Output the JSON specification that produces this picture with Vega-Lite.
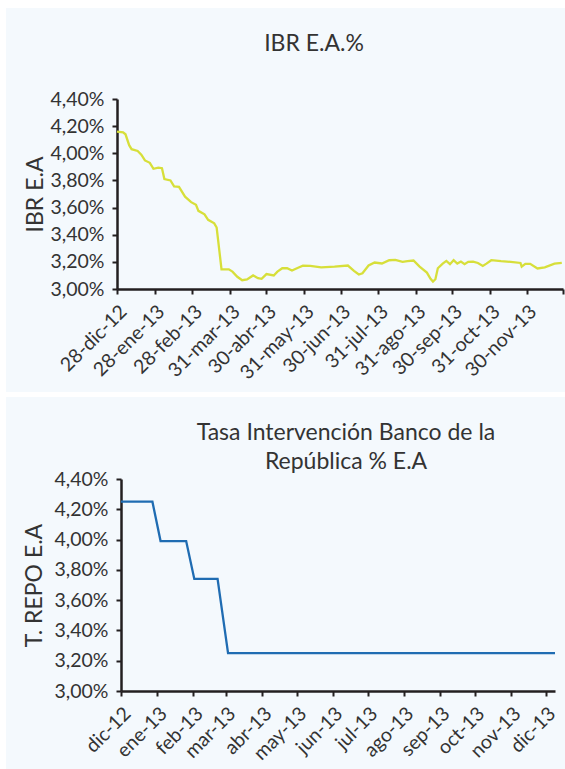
{
  "$schema": "https://vega.github.io/schema/vega-lite/v6.json",
  "background": "#f4f9fd",
  "padding": 0,
  "spacing": 0,
  "config": {
    "view": {"stroke": null},
    "font": "Lato",
    "title": {"font": "Lato", "fontSize": 23, "fontWeight": "normal", "color": "#333333", "lineHeight": 29},
    "axis": {
      "grid": false,
      "domainColor": "#231f20", "domainWidth": 2.5,
      "tickColor": "#231f20", "tickWidth": 2, "tickSize": 5,
      "labelFont": "Lato", "labelFontSize": 19.5, "labelColor": "#333333", "labelPadding": 8,
      "labelOverlap": false, "labelFlush": false, "labelBound": false,
      "titleFont": "Lato", "titleFontSize": 23, "titleFontWeight": "normal", "titleColor": "#333333"
    }
  },
  "datasets": {
    "ibr": [
      {"fecha": "2012-12-28", "tasa": 4.16},
      {"fecha": "2013-01-02", "tasa": 4.155},
      {"fecha": "2013-01-04", "tasa": 4.14},
      {"fecha": "2013-01-07", "tasa": 4.06},
      {"fecha": "2013-01-09", "tasa": 4.03},
      {"fecha": "2013-01-14", "tasa": 4.017},
      {"fecha": "2013-01-17", "tasa": 3.99},
      {"fecha": "2013-01-20", "tasa": 3.947},
      {"fecha": "2013-01-24", "tasa": 3.93},
      {"fecha": "2013-01-27", "tasa": 3.886},
      {"fecha": "2013-01-31", "tasa": 3.894},
      {"fecha": "2013-02-03", "tasa": 3.89},
      {"fecha": "2013-02-05", "tasa": 3.81},
      {"fecha": "2013-02-10", "tasa": 3.8},
      {"fecha": "2013-02-13", "tasa": 3.756},
      {"fecha": "2013-02-17", "tasa": 3.753},
      {"fecha": "2013-02-22", "tasa": 3.68},
      {"fecha": "2013-02-27", "tasa": 3.64},
      {"fecha": "2013-03-03", "tasa": 3.62},
      {"fecha": "2013-03-05", "tasa": 3.576},
      {"fecha": "2013-03-10", "tasa": 3.55},
      {"fecha": "2013-03-13", "tasa": 3.51},
      {"fecha": "2013-03-18", "tasa": 3.484},
      {"fecha": "2013-03-20", "tasa": 3.453},
      {"fecha": "2013-03-24", "tasa": 3.145},
      {"fecha": "2013-03-30", "tasa": 3.145},
      {"fecha": "2013-04-02", "tasa": 3.128},
      {"fecha": "2013-04-06", "tasa": 3.09},
      {"fecha": "2013-04-10", "tasa": 3.065},
      {"fecha": "2013-04-14", "tasa": 3.07},
      {"fecha": "2013-04-19", "tasa": 3.1},
      {"fecha": "2013-04-23", "tasa": 3.08},
      {"fecha": "2013-04-26", "tasa": 3.075},
      {"fecha": "2013-04-30", "tasa": 3.11},
      {"fecha": "2013-05-06", "tasa": 3.1},
      {"fecha": "2013-05-09", "tasa": 3.128},
      {"fecha": "2013-05-13", "tasa": 3.153},
      {"fecha": "2013-05-17", "tasa": 3.153},
      {"fecha": "2013-05-21", "tasa": 3.136},
      {"fecha": "2013-05-26", "tasa": 3.157},
      {"fecha": "2013-05-30", "tasa": 3.172},
      {"fecha": "2013-06-05", "tasa": 3.17},
      {"fecha": "2013-06-14", "tasa": 3.16},
      {"fecha": "2013-06-25", "tasa": 3.165},
      {"fecha": "2013-07-06", "tasa": 3.173},
      {"fecha": "2013-07-11", "tasa": 3.134},
      {"fecha": "2013-07-15", "tasa": 3.107},
      {"fecha": "2013-07-18", "tasa": 3.116},
      {"fecha": "2013-07-23", "tasa": 3.173},
      {"fecha": "2013-07-28", "tasa": 3.195},
      {"fecha": "2013-08-03", "tasa": 3.188},
      {"fecha": "2013-08-09", "tasa": 3.212},
      {"fecha": "2013-08-14", "tasa": 3.214},
      {"fecha": "2013-08-20", "tasa": 3.2},
      {"fecha": "2013-08-24", "tasa": 3.205},
      {"fecha": "2013-08-29", "tasa": 3.21},
      {"fecha": "2013-09-03", "tasa": 3.165},
      {"fecha": "2013-09-09", "tasa": 3.121},
      {"fecha": "2013-09-12", "tasa": 3.075},
      {"fecha": "2013-09-14", "tasa": 3.055},
      {"fecha": "2013-09-16", "tasa": 3.072},
      {"fecha": "2013-09-18", "tasa": 3.153},
      {"fecha": "2013-09-22", "tasa": 3.187},
      {"fecha": "2013-09-25", "tasa": 3.207},
      {"fecha": "2013-09-28", "tasa": 3.183},
      {"fecha": "2013-10-01", "tasa": 3.212},
      {"fecha": "2013-10-04", "tasa": 3.187},
      {"fecha": "2013-10-07", "tasa": 3.202},
      {"fecha": "2013-10-10", "tasa": 3.183},
      {"fecha": "2013-10-13", "tasa": 3.2},
      {"fecha": "2013-10-17", "tasa": 3.202},
      {"fecha": "2013-10-21", "tasa": 3.192},
      {"fecha": "2013-10-25", "tasa": 3.17},
      {"fecha": "2013-10-28", "tasa": 3.187},
      {"fecha": "2013-11-01", "tasa": 3.212},
      {"fecha": "2013-11-09", "tasa": 3.205},
      {"fecha": "2013-11-17", "tasa": 3.2},
      {"fecha": "2013-11-25", "tasa": 3.192},
      {"fecha": "2013-11-26", "tasa": 3.165},
      {"fecha": "2013-11-29", "tasa": 3.185},
      {"fecha": "2013-12-03", "tasa": 3.185},
      {"fecha": "2013-12-09", "tasa": 3.151},
      {"fecha": "2013-12-15", "tasa": 3.16},
      {"fecha": "2013-12-23", "tasa": 3.187},
      {"fecha": "2013-12-29", "tasa": 3.192}
    ],
    "repo": [
      {"fecha": "2012-12-01", "tasa": 4.25},
      {"fecha": "2012-12-28", "tasa": 4.25},
      {"fecha": "2013-01-04", "tasa": 3.99},
      {"fecha": "2013-01-26", "tasa": 3.99},
      {"fecha": "2013-02-02", "tasa": 3.74},
      {"fecha": "2013-02-22", "tasa": 3.74},
      {"fecha": "2013-03-03", "tasa": 3.25},
      {"fecha": "2013-12-09", "tasa": 3.25}
    ]
  },
  "vconcat": [
    {"width": 565, "height": 8, "data": {"values": []}, "mark": "rule", "encoding": {}, "view": {"fill": "white", "stroke": null}},
    {
      "hconcat": [
        {"width": 6, "height": 384, "data": {"values": []}, "mark": "rule", "encoding": {}, "view": {"fill": "white", "stroke": null}},
        {
          "vconcat": [
            {"width": 1, "height": 1, "data": {"values": []}, "mark": "rule", "encoding": {}},
            {
              "width": 446,
              "height": 190,
              "title": {"text": "IBR E.A.%", "anchor": "middle", "frame": "group", "dx": -26, "offset": 10, "baseline": "bottom"},
              "data": {"name": "ibr"},
              "mark": {"type": "line", "color": "#d7df3a", "strokeWidth": 2.3},
              "encoding": {
                "x": {
                  "field": "fecha", "type": "temporal",
                  "scale": {"type": "utc", "nice": false, "domain": [
                    {"year": 2012, "month": 12, "date": 28, "utc": true},
                    {"year": 2013, "month": 12, "date": 30, "utc": true}
                  ]},
                  "axis": {
                    "title": null,
                    "labelAngle": -45,
                    "values": [
                      {"year": 2012, "month": 12, "date": 28, "utc": true},
                      {"year": 2013, "month": 1, "date": 28, "utc": true},
                      {"year": 2013, "month": 2, "date": 28, "utc": true},
                      {"year": 2013, "month": 3, "date": 31, "utc": true},
                      {"year": 2013, "month": 4, "date": 30, "utc": true},
                      {"year": 2013, "month": 5, "date": 31, "utc": true},
                      {"year": 2013, "month": 6, "date": 30, "utc": true},
                      {"year": 2013, "month": 7, "date": 31, "utc": true},
                      {"year": 2013, "month": 8, "date": 31, "utc": true},
                      {"year": 2013, "month": 9, "date": 30, "utc": true},
                      {"year": 2013, "month": 10, "date": 31, "utc": true},
                      {"year": 2013, "month": 11, "date": 30, "utc": true},
                      {"year": 2013, "month": 12, "date": 30, "utc": true}
                    ],
                    "labelExpr": "utcyear(datum.value) == 2013 && utcmonth(datum.value) == 11 ? '' : utcFormat(datum.value, '%d') + '-' + ['ene','feb','mar','abr','may','jun','jul','ago','sep','oct','nov','dic'][utcmonth(datum.value)] + '-' + utcFormat(datum.value, '%y')"
                  }
                },
                "y": {
                  "field": "tasa", "type": "quantitative",
                  "scale": {"domain": [3, 4.4], "zero": false, "nice": false},
                  "axis": {
                    "title": "IBR E.A",
                    "titleX": -70,
                    "values": [3, 3.2, 3.4, 3.6, 3.8, 4, 4.2, 4.4],
                    "labelExpr": "replace(format(datum.value, '.2f'), '.', ',') + '%'"
                  }
                }
              }
            }
          ],
          "spacing": 24
        }
      ],
      "spacing": 18
    },
    {"width": 565, "height": 5, "data": {"values": []}, "mark": "rule", "encoding": {}, "view": {"fill": "white", "stroke": null}},
    {
      "hconcat": [
        {"width": 6, "height": 372, "data": {"values": []}, "mark": "rule", "encoding": {}, "view": {"fill": "white", "stroke": null}},
        {
          "vconcat": [
            {"width": 1, "height": 1, "data": {"values": []}, "mark": "rule", "encoding": {}},
            {
              "width": 434,
              "height": 212,
              "title": {"text": ["Tasa Intervención Banco de la", "República % E.A"], "anchor": "middle", "frame": "group", "dx": 8, "offset": -28, "baseline": "bottom"},
              "data": {"name": "repo"},
              "mark": {"type": "line", "color": "#1f6cb2", "strokeWidth": 2.3},
              "encoding": {
                "x": {
                  "field": "fecha", "type": "temporal",
                  "scale": {"type": "utc", "nice": false, "domain": [
                    {"year": 2012, "month": 12, "date": 1, "utc": true},
                    {"year": 2013, "month": 12, "date": 9, "utc": true}
                  ]},
                  "axis": {
                    "title": null,
                    "labelAngle": -45,
                    "values": [
                      {"year": 2012, "month": 12, "date": 1, "utc": true},
                      {"year": 2013, "month": 1, "date": 1, "utc": true},
                      {"year": 2013, "month": 2, "date": 1, "utc": true},
                      {"year": 2013, "month": 3, "date": 1, "utc": true},
                      {"year": 2013, "month": 4, "date": 1, "utc": true},
                      {"year": 2013, "month": 5, "date": 1, "utc": true},
                      {"year": 2013, "month": 6, "date": 1, "utc": true},
                      {"year": 2013, "month": 7, "date": 1, "utc": true},
                      {"year": 2013, "month": 8, "date": 1, "utc": true},
                      {"year": 2013, "month": 9, "date": 1, "utc": true},
                      {"year": 2013, "month": 10, "date": 1, "utc": true},
                      {"year": 2013, "month": 11, "date": 1, "utc": true},
                      {"year": 2013, "month": 12, "date": 1, "utc": true}
                    ],
                    "labelExpr": "['ene','feb','mar','abr','may','jun','jul','ago','sep','oct','nov','dic'][utcmonth(datum.value)] + '-' + utcFormat(datum.value, '%y')"
                  }
                },
                "y": {
                  "field": "tasa", "type": "quantitative",
                  "scale": {"domain": [3, 4.4], "zero": false, "nice": false},
                  "axis": {
                    "title": "T. REPO E.A",
                    "titleX": -75,
                    "values": [3, 3.2, 3.4, 3.6, 3.8, 4, 4.2, 4.4],
                    "labelExpr": "replace(format(datum.value, '.2f'), '.', ',') + '%'"
                  }
                }
              }
            }
          ],
          "spacing": 24
        }
      ],
      "spacing": 16
    }
  ]
}
